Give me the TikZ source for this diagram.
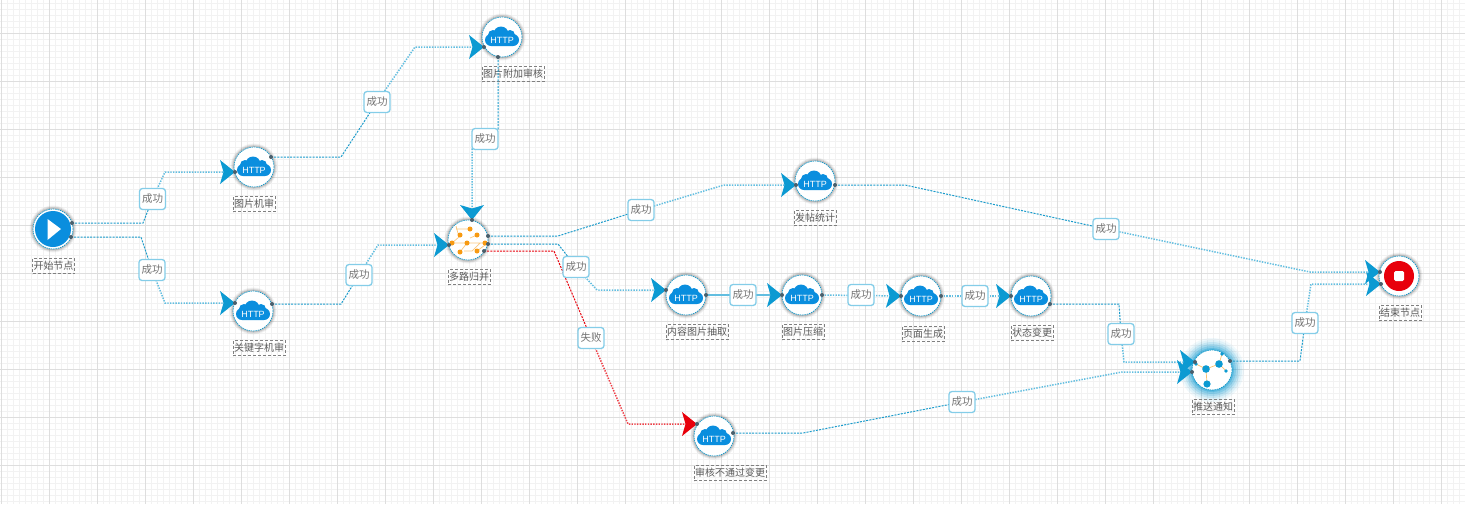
\documentclass[tikz,border=0pt]{standalone}
\usepackage{fontspec}
\setmainfont{Noto Sans CJK SC}
\newfontfamily\httpfont{Liberation Sans}
\usetikzlibrary{arrows.meta}
\definecolor{linkblue}{HTML}{1A9BCB}
\definecolor{softblue}{HTML}{62BEE0}
\definecolor{tipblue}{HTML}{0C9AD2}
\definecolor{iconblue}{HTML}{0A8EDE}
\definecolor{boxblue}{HTML}{84CDE8}
\definecolor{portgrey}{HTML}{4A5F6C}
\definecolor{orangeic}{HTML}{F79A12}
\definecolor{redend}{HTML}{E8000B}
\tikzset{
  x=1pt,y=-1pt,
  cell/.style={circle,draw=linkblue,dash pattern=on 1.5pt off .8pt,line width=.7pt,fill=white,minimum size=40pt,inner sep=0pt},
  capt/.style={draw=black!50,line width=.7pt,dash pattern=on 3pt off 2pt,text=black!65,font=\fontsize{10}{12}\selectfont,inner sep=1pt,minimum height=15.5pt},
  tag/.style={draw=boxblue,line width=1.3pt,fill=white,rounded corners=3pt,text=black!55,font=\fontsize{10.5}{12}\selectfont,minimum width=26pt,minimum height=21pt,inner sep=0pt},
  flow/.style={draw=linkblue,line width=1pt,dash pattern=on 2pt off 1.2pt},
  flowb/.style={draw=softblue,line width=1.5pt,dash pattern=on 1.4pt off 1.3pt,-{Stealth[length=15pt,width=24pt,inset=3.5pt,color=tipblue,line width=0pt]}},
  bad/.style={draw=redend,line width=1pt,dash pattern=on 2pt off 1.2pt},
  badb/.style={draw=redend!75,line width=1.5pt,dash pattern=on 1.4pt off 1.3pt,-{Stealth[length=15pt,width=24pt,inset=3.5pt,color=redend,line width=0pt]}},
}
\newcommand{\ringshadow}[2]{\foreach \rr/\oo in {23.5/.05,22.5/.08,21.5/.12}{\fill[black,opacity=\oo] (#1,#2) circle[radius=\rr];}}
\newcommand{\httpcloud}[2]{%
 \begin{scope}[shift={(#1,#2)}]
  \fill[iconblue,rounded corners=6pt] (-17,-3) rectangle (17,9);
  \fill[iconblue] (-1,-3) circle[radius=7.5] (-9,-2) circle[radius=5] (8,-2) circle[radius=5];
  \node[text=white,font=\fontsize{9}{9}\httpfont,inner sep=0pt] at (0,3) {HTTP};
 \end{scope}}
\newcommand{\httpnode}[5]{%
  \ringshadow{#2}{#3}
  \node[cell] (#1) at (#2,#3) {};
  \httpcloud{#2}{#3}
  \node[capt] (#1cap) at (#4) {#5};}
\begin{document}
\begin{tikzpicture}
\useasboundingbox (0,0) rectangle (1465,504);
\fill[white] (0,0) rectangle (1465,504);
% grid
\foreach \i in {0,...,244}{\draw[black!5,line width=.7pt] ({1+6*\i},0) -- ({1+6*\i},504);}
\foreach \i in {0,...,84}{\draw[black!5,line width=.7pt] (0,{3+6*\i}) -- (1465,{3+6*\i});}
\foreach \i in {0,...,30}{\draw[black!13,line width=.9pt] ({1+48*\i},0) -- ({1+48*\i},504);}
\foreach \i in {0,...,10}{\draw[black!13,line width=.9pt] (0,{33+48*\i}) -- (1465,{33+48*\i});}
% nodes
\ringshadow{53}{229}
\node[cell] (start) at (53,229) {};
\fill[iconblue] (53,229) circle[radius=18];
\fill[white] (47.5,219) -- (61,229) -- (47.5,240) -- cycle;
\node[capt] (startcap) at (53.5,266) {开始节点};
\httpnode{a}{254}{167}{254,204}{图片机审}
\httpnode{b}{253}{311}{259,348}{关键字机审}
\httpnode{c}{502}{37}{513,74}{图片附加审核}
\httpnode{d}{815}{181}{815,218}{发帖统计}
\httpnode{e}{686}{295}{697,332}{内容图片抽取}
\httpnode{f}{802}{295}{803,332}{图片压缩}
\httpnode{g}{921}{296}{923,334}{页面生成}
\httpnode{h}{1031}{296}{1032,333}{状态变更}
\httpnode{k}{714}{436}{730,473}{审核不通过变更}
% merge
\ringshadow{468}{240}
\node[cell] (merge) at (468,240) {};
\begin{scope}[shift={(468,240)}]
 \draw[orangeic!55,line width=.7pt] (-16,3) -- (-9,-3) -- (-12,-14) (-16,3) -- (17,3) (2,-11) -- (-12,-11) (9,-5) -- (2,-2) (17,3) -- (12,3) -- (4,11) -- (-4,11) (-8,12) -- (-1,3) (9,11) -- (17,5);
 \foreach \p/\q in {2/-11,-8/-5,9/-5,-16/3,-1/3,17/3,-8/12,9/11}{\fill[orangeic] (\p,\q) circle[radius=2.5];}
\end{scope}
\node[capt] (mergecap) at (469,277) {多路归并};
% push
\foreach \rr/\oo in {32/.06,30/.08,28/.12,26/.16,24/.22,22/.3,20.5/.4}{\fill[tipblue,opacity=\oo] (1212,370) circle[radius=\rr];}
\node[cell] (push) at (1212,370) {};
\begin{scope}[shift={(1212,370)}]
 \draw[orangeic!60,line width=.7pt] (-6,-1) -- (7,-6) -- (14,1) (-6,-1) -- (-5,14) (-6,-1) -- (-16,-6) (7,-6) -- (10,-16);
 \fill[tipblue] (-6,-1) circle[radius=3.8] (7,-6) circle[radius=3.8] (-5,14) circle[radius=3.6] (14,1) circle[radius=1.9] (-16,-6) circle[radius=1.9] (10,-16) circle[radius=1.9];
\end{scope}
\node[capt] (pushcap) at (1213,407) {推送通知};
% end
\ringshadow{1399}{276}
\node[cell] (stop) at (1399,276) {};
\fill[redend] (1399,276) circle[radius=15];
\fill[white,rounded corners=1.5pt] (1394,271) rectangle (1404,281);
\node[capt] (stopcap) at (1400,313) {结束节点};
% ports
\foreach \n/\x/\y in {s1/72/223,s2/71/237,a0/235/172,a1/271/157,b0/235/303,b1/272/304,c0/484/47,c1/498/57,
 m0/449/245,m1/472/220,m2/488/236,m3/488/244,m4/484/251,d0/796/185,d1/835/185,e0/666/290,e1/706/295,
 f0/782/295,f1/822/295,g0/901/296,g1/941/296,h0/1011/296,h1/1050/304,k0/697/424,k1/733/433,
 p0/1195/362,p1/1192/372,p2/1230/361,t0/1380/272,t1/1381/284}
 {\coordinate (\n) at (\x,\y);}
% connectors
\newcommand{\link}[5]{%
 \draw[flow] (#1) -- #2 -- (#3);
 \draw[flowb] (#3) -- #4 -- (#5);}
\newcommand{\tagat}[3]{\coordinate (#1) at (#2,#3);}
\tagat{la}{152.5}{199}\tagat{lb}{152}{270}\tagat{lc}{377}{102}\tagat{ld}{359}{275}\tagat{le}{485}{139}
\tagat{lf}{641}{210}\tagat{lg}{576}{267}\tagat{lh}{591}{338}\tagat{li}{743}{295}\tagat{lj}{861}{295}
\tagat{lk}{975}{296}\tagat{ll}{1121}{334}\tagat{lm}{962}{402}\tagat{ln}{1305}{323}\tagat{lo}{1106}{229}
\link{s1}{(143,223)}{la}{(165,172)}{a0}
\link{s2}{(141,237)}{lb}{(165,303)}{b0}
\link{a1}{(341,157)}{lc}{(415,47)}{c0}
\link{b1}{(341,304)}{ld}{(378,245)}{m0}
\draw[flow] (c1) -- (498,130) -- (le);
\draw[flowb] (le) -- (472,149) -- (m1);
\link{m2}{(558,236)}{lf}{(724,185)}{d0}
\link{m3}{(558,244)}{lg}{(597,290)}{e0}
\draw[bad] (m4) -- (554,251) -- (lh);
\draw[badb] (lh) -- (628,424) -- (k0);
\draw[flowb,dash pattern=on 3pt off 0pt] (e1) -- (f0);
\draw[flowb] (f1) -- (g0);
\draw[flowb] (g1) -- (h0);
\link{h1}{(1119,304)}{ll}{(1124,362)}{p0}
\link{k1}{(803,433)}{lm}{(1122,372)}{p1}
\link{p2}{(1300,361)}{ln}{(1311,284)}{t1}
\link{d1}{(905,185)}{lo}{(1310,272)}{t0}
% ports on top
\foreach \n in {s1,s2,a0,a1,b0,b1,c0,c1,m0,m1,m2,m3,m4,d0,d1,e0,e1,f0,f1,g0,g1,h0,h1,k0,k1,p0,p1,p2,t0,t1}
 {\fill[portgrey] (\n) circle[radius=2];}
% labels
\foreach \n/\t in {la/成功,lb/成功,lc/成功,ld/成功,le/成功,lf/成功,lg/成功,lh/失败,li/成功,lj/成功,lk/成功,ll/成功,lm/成功,ln/成功,lo/成功}
 {\node[tag] (\n t) at (\n) {\t};}
\end{tikzpicture}
\end{document}
